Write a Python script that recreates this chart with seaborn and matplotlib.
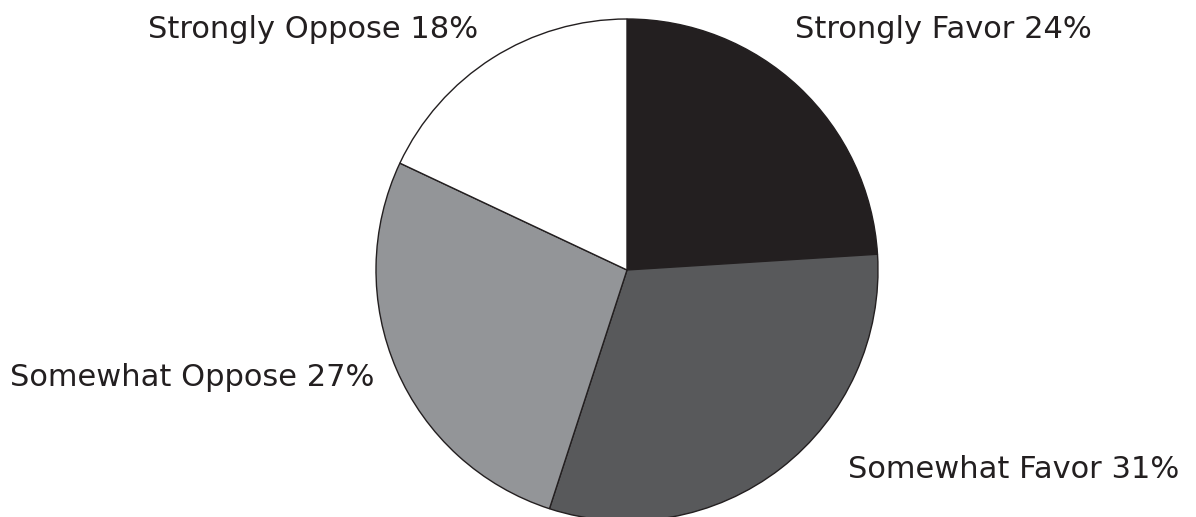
import matplotlib
matplotlib.use('Agg')
import matplotlib.pyplot as plt
import seaborn as sns

# Survey responses, clockwise from 12 o'clock
labels = ['Strongly Favor', 'Somewhat Favor', 'Somewhat Oppose', 'Strongly Oppose']
shares = [24, 31, 27, 18]
colors = ['#231f20', '#58595b', '#939598', '#ffffff']

sns.set_theme(style='white')
plt.rcParams['font.family'] = ['DejaVu Sans']

W, H = 1196, 517
fig = plt.figure(figsize=(W / 100, H / 100), dpi=100)

# pie centre ~(627, 270) px, radius ~251 px
cx, cy, r = 627, 270, 251
ax = fig.add_axes([(cx - r) / W, (H - cy - r) / H, 2 * r / W, 2 * r / H])
wedges, _ = ax.pie(shares, colors=colors, startangle=90, counterclock=False,
                   radius=1.0,
                   wedgeprops=dict(edgecolor='#231f20', linewidth=1.0))
for w in wedges:
    w.set_clip_on(False)
ax.set_xlim(-1, 1)
ax.set_ylim(-1, 1)
ax.set_aspect('equal')
ax.axis('off')

# label anchors in pixels (left x, centre y)
label_pos = [(795, 29), (848, 469), (10, 377), (148, 29)]
for (lx, ly), lab, val in zip(label_pos, labels, shares):
    fig.text(lx / W, 1 - ly / H, f'{lab} {val}%', ha='left', va='center',
             fontsize=22, color='#231f20')

fig.savefig('out.png', dpi=100, facecolor='white')
